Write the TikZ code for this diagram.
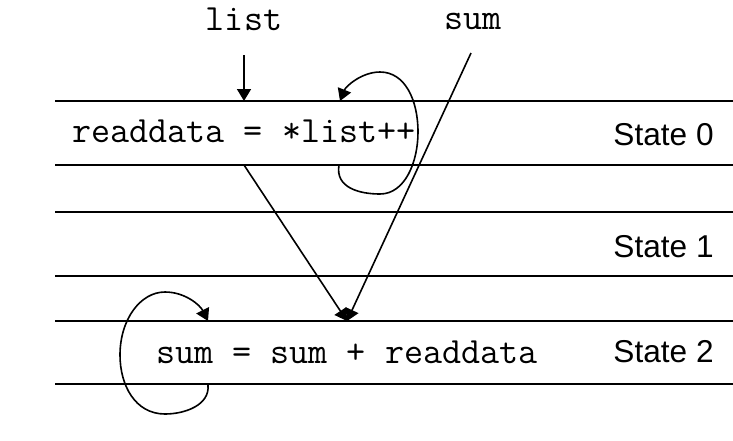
\documentclass[tikz,border=0pt]{standalone}
\usepackage{fontspec}
\usepackage{tikz}
\usetikzlibrary{arrows.meta}

\newfontfamily\labelfont{Liberation Sans}

\begin{document}
\begin{tikzpicture}[x=0.5pt, y=-0.5pt,
    rail/.style={line width=0.9pt},
    flow/.style={line width=0.8pt, -{Triangle[length=6pt, width=7pt]}},
    code/.style={inner sep=0pt, font=\ttfamily\fontsize{18.5}{20}\selectfont},
    statelabel/.style={inner sep=0pt, anchor=base east, font=\labelfont\fontsize{15.8}{18}\selectfont}]

    \useasboundingbox (0, 0) rectangle (733, 440);

    % Rails of the three states
    \foreach \y in {101, 165, 212, 276, 321, 384}
        \draw[rail] (55, \y) -- (733, \y);

    % Inputs
    \node[code, anchor=base] (list) at (244, 30) {list};
    \node[code, anchor=base] (sumin) at (473, 29) {sum};

    % Statements
    \node[code, anchor=base west] (readdata) at (72, 142) {readdata = *list++};
    \node[code, anchor=base west] (sumexpr) at (156, 363) {sum = sum + readdata};

    % State names
    \node[statelabel] (state0) at (714, 145) {State 0};
    \node[statelabel] (state1) at (714, 257) {State 1};
    \node[statelabel] (state2) at (714, 362) {State 2};

    % Ends of the connectors
    \coordinate (listin) at (244, 101);
    \coordinate (sumtop) at (471, 53);
    \coordinate (readout) at (244, 165);
    \coordinate (join) at (347, 321);
    \coordinate (loopa) at (339, 165);
    \coordinate (loopb) at (340, 101);
    \coordinate (loopc) at (208, 385);
    \coordinate (loopd) at (208, 321);

    % list into state 0
    \draw[flow] (list.south |- 0, 55) -- (listin);

    % Pointer increment loop
    \draw[flow] (loopa) .. controls (335, 188) and (360, 194) .. (380, 194)
        .. controls (405, 194) and (418, 162) .. (418, 132)
        .. controls (418, 100) and (405, 72) .. (380, 72)
        .. controls (362, 72) and (346, 86) .. (loopb);

    % Values into state 2
    \draw[flow] (readout) -- (join);
    \draw[flow] (sumtop) -- (join);

    % Accumulator loop
    \draw[flow] (loopc) .. controls (210, 405) and (185, 414) .. (165, 414)
        .. controls (135, 414) and (120, 385) .. (120, 355)
        .. controls (120, 320) and (140, 292) .. (165, 292)
        .. controls (185, 292) and (200, 305) .. (loopd);

\end{tikzpicture}
\end{document}
